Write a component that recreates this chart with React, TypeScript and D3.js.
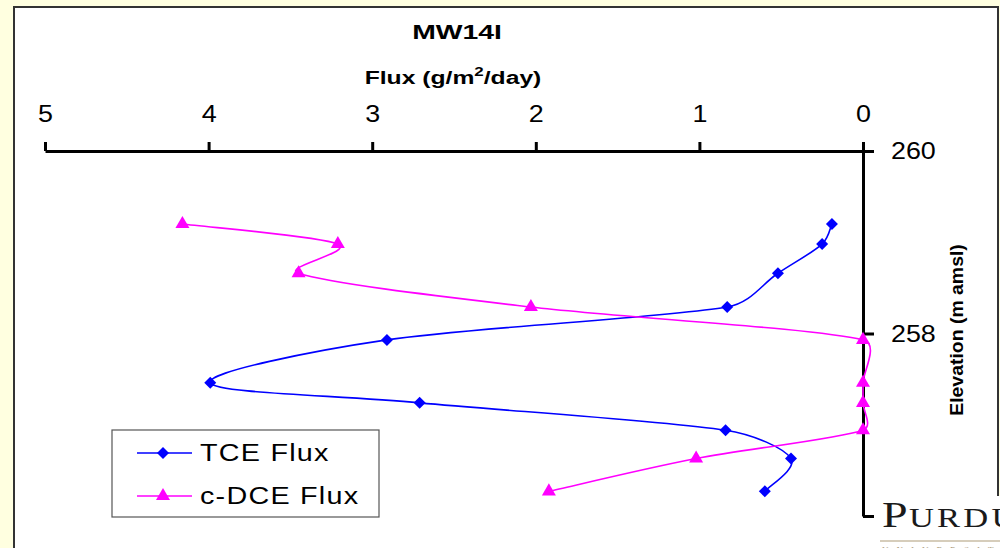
// Externals
import * as d3 from 'd3'
import React, { useRef, useEffect } from 'react'

// Data
const elevation = [259.2, 258.98, 258.66, 258.29, 257.93, 257.46, 257.24, 256.94, 256.63, 256.27]
const tceFlux = [0.19, 0.25, 0.52, 0.83, 2.91, 3.99, 2.71, 0.84, 0.44, 0.6]
const dceFlux = [4.16, 3.21, 3.45, 2.03, 0, 0, 0, 0, 1.02, 1.92]
const fluxTicks = [5, 4, 3, 2, 1, 0]
const elevTicks = [260, 258, 256]
const seriesNames = ['TCE Flux', 'c-DCE Flux']

const W = 1000
const H = 548
const FONT = 'Arial, "Liberation Sans", sans-serif'

// Excel-like smoothed line: 1/6 neighbour tangents, arms clamped to the segment length
class ExcelSmooth {
  _context: any
  _pts: number[][] = []
  constructor(context: any) { this._context = context }
  areaStart() {}
  areaEnd() {}
  lineStart() { this._pts = [] }
  point(x: number, y: number) { this._pts.push([+x, +y]) }
  lineEnd() {
    const p = this._pts
    const c = this._context
    const n = p.length
    if (!n) return
    c.moveTo(p[0][0], p[0][1])
    const clamp = (t: number[], max: number) => {
      const len = Math.hypot(t[0], t[1])
      return len > max && len > 0 ? [t[0] * max / len, t[1] * max / len] : t
    }
    for (let i = 0; i < n - 1; i++) {
      const p0 = p[Math.max(i - 1, 0)]
      const p1 = p[i]
      const p2 = p[i + 1]
      const p3 = p[Math.min(i + 2, n - 1)]
      const seg = Math.hypot(p2[0] - p1[0], p2[1] - p1[1]) * 0.4
      const t1 = clamp([(p2[0] - p0[0]) / 6, (p2[1] - p0[1]) / 6], seg)
      const t2 = clamp([(p3[0] - p1[0]) / 6, (p3[1] - p1[1]) / 6], seg)
      c.bezierCurveTo(p1[0] + t1[0], p1[1] + t1[1], p2[0] - t2[0], p2[1] - t2[1], p2[0], p2[1])
    }
  }
}
const excelCurve: any = (context: any) => new ExcelSmooth(context)

const App = () => {
  const ref = useRef<SVGSVGElement | null>(null)

  useEffect(() => {
    const svg = d3.select(ref.current)
    svg.selectAll('*').remove()

    const x = d3.scaleLinear().domain([0, 5]).range([863, 45])
    const y = d3.scaleLinear().domain([256, 260]).range([516, 151])

    // background + chart area
    svg.append('rect').attr('width', W).attr('height', H).attr('fill', '#FFFFE0')
    svg.append('rect')
      .attr('x', 14).attr('y', 7).attr('width', 984).attr('height', 580)
      .attr('fill', '#fff').attr('stroke', '#333').attr('stroke-width', 2)

    // titles
    svg.append('text')
      .attr('transform', 'translate(457,39) scale(1.35,1)')
      .attr('text-anchor', 'middle')
      .style('font-family', FONT).style('font-weight', 'bold').style('font-size', '21px')
      .text('MW14I')

    const fluxTitle = svg.append('text')
      .attr('transform', 'translate(453,84) scale(1.3,1)')
      .attr('text-anchor', 'middle')
      .style('font-family', FONT).style('font-weight', 'bold').style('font-size', '19px')
    fluxTitle.append('tspan').text('Flux (g/m')
    fluxTitle.append('tspan').attr('dy', -8).style('font-size', '13px').text('2')
    fluxTitle.append('tspan').attr('dy', 8).text('/day)')

    svg.append('text')
      .attr('transform', 'translate(963,330) rotate(-90) scale(1.08,1)')
      .attr('text-anchor', 'middle')
      .style('font-family', FONT).style('font-weight', 'bold').style('font-size', '18px')
      .text('Elevation (m amsl)')

    // axes
    const xAxis = svg.append('g')
      .attr('transform', `translate(0,${y(260)})`)
      .call(d3.axisTop(x).tickValues(fluxTicks).tickSizeInner(9).tickSizeOuter(0).tickPadding(20).tickFormat(d3.format('d')))
    const yAxis = svg.append('g')
      .attr('transform', `translate(${x(0)},0)`)
      .call(d3.axisRight(y).tickValues(elevTicks).tickSizeInner(11).tickSizeOuter(0).tickPadding(14)
        .tickFormat((d: any) => (d === 256 ? '' : String(d))))
    ;[xAxis, yAxis].forEach(a => {
      a.selectAll('path, line').attr('stroke', '#000').attr('stroke-width', 3)
      a.selectAll('text')
        .attr('fill', '#000')
        .attr('transform', 'scale(1.12,1)')
        .style('font-family', FONT).style('font-size', '24px')
    })

    // series
    const series = [
      { vals: tceFlux, color: '#0000FF', sym: 'diamond' },
      { vals: dceFlux, color: '#FF00FF', sym: 'triangle' }
    ]
    const line = d3.line<number[]>()
      .x(d => x(d[0]))
      .y(d => y(d[1]))
      .curve(excelCurve)
    const diamond = d3.symbol().type(d3.symbolSquare).size(72)()
    const triangle = d3.symbol().type(d3.symbolTriangle).size(85)()

    series.forEach(s => {
      const pts = s.vals.map((v, i) => [v, elevation[i]])
      svg.append('path')
        .attr('d', line(pts))
        .attr('fill', 'none').attr('stroke', s.color).attr('stroke-width', 1.6)
      svg.selectAll(null)
        .data(pts)
        .enter().append('path')
        .attr('d', s.sym === 'diamond' ? diamond : triangle)
        .attr('transform', (d: any) => `translate(${x(d[0])},${y(d[1])})` + (s.sym === 'diamond' ? ' rotate(45)' : ''))
        .attr('fill', s.color)
    })

    // legend
    const lg = svg.append('g')
    lg.append('rect')
      .attr('x', 112).attr('y', 430).attr('width', 267).attr('height', 87)
      .attr('fill', '#fff').attr('stroke', '#555').attr('stroke-width', 1.2)
    series.forEach((s, i) => {
      const ly = 453 + i * 43
      lg.append('line').attr('x1', 137).attr('x2', 192).attr('y1', ly).attr('y2', ly)
        .attr('stroke', s.color).attr('stroke-width', 1.6)
      lg.append('path')
        .attr('d', s.sym === 'diamond' ? diamond : triangle)
        .attr('transform', `translate(163,${ly})` + (s.sym === 'diamond' ? ' rotate(45)' : ''))
        .attr('fill', s.color)
      lg.append('text')
        .attr('transform', `translate(200,${ly + 8}) scale(1.25,1)`)
        .style('font-family', FONT).style('font-size', '23px').style('letter-spacing', '1px')
        .text(seriesNames[i])
    })

    // Purdue logo corner
    const logo = svg.append('g')
    logo.append('rect').attr('x', 876).attr('y', 496).attr('width', 124).attr('height', 52).attr('fill', '#fff')
    const pt = logo.append('text')
      .attr('transform', 'translate(882,527) scale(1.28,1)')
      .attr('fill', '#1a1a1a')
      .style('font-family', '"Liberation Serif", "DejaVu Serif", serif')
      .style('letter-spacing', '1px')
    pt.append('tspan').style('font-size', '36px').text('P')
    pt.append('tspan').style('font-size', '27px').style('letter-spacing', '2.5px').text('URDUE')
    logo.append('line').attr('x1', 880).attr('x2', 1000).attr('y1', 541).attr('y2', 541)
      .attr('stroke', '#c9bda5').attr('stroke-width', 1.5)
    logo.append('text')
      .attr('x', 882).attr('y', 553)
      .attr('fill', '#a89878')
      .style('font-family', '"Liberation Serif", serif').style('font-size', '9px').style('letter-spacing', '8px')
      .text('UNIVERSITY')
  }, [])

  return (
    <svg ref={ref} width={W} height={H} style={{ position: 'absolute', left: 0, top: 0 }} />
  )
}

export default App
